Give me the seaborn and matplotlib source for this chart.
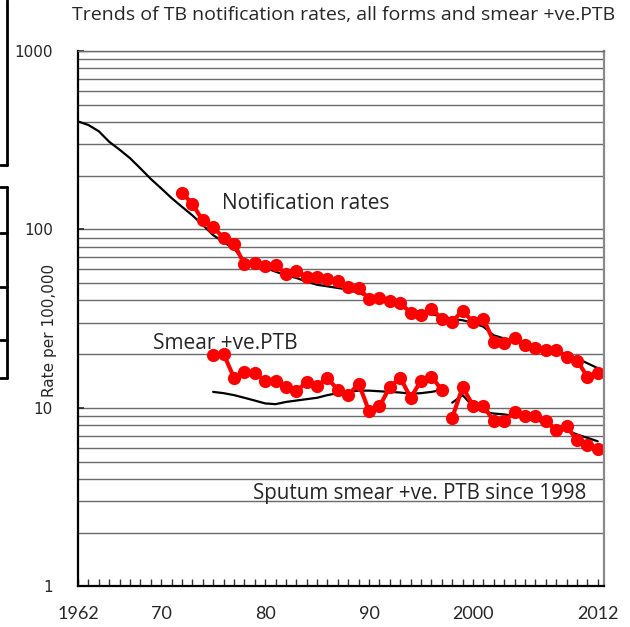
import numpy as np
import pandas as pd
import matplotlib
matplotlib.use("Agg")
import matplotlib.pyplot as plt
import matplotlib.ticker as mticker
from matplotlib.lines import Line2D
import seaborn as sns

sns.set_style("white")
plt.rcParams["font.family"] = ["DejaVu Sans"]

# ===========================
# DATA
# ===========================

# notification rates, all forms (red dots)
notif_years = list(range(1972, 2013))
notif_rates = [161, 139, 112.5, 103, 89.7, 83.3, 64, 64.9, 62.1, 63.4,
               56.5, 58.2, 54, 54, 53, 51.5, 47.3, 47.0, 40.8, 41.3,
               39.5, 38.7, 34.1, 33.2, 35.9, 31.7, 30.5, 35.0, 30.3, 31.5,
               23.5, 23.1, 24.7, 22.6, 21.8, 21.2, 21.0, 19.4, 18.4, 15.0,
               15.7]

# notification trend (black line)
notif_trend_years = list(range(1962, 2013))
notif_trend = [403, 385, 355, 310, 280, 251, 220, 192, 170, 150,
               134, 120, 106, 93, 85, 78, 67, 63.5, 61, 58,
               55.5, 53.5, 51, 49, 48, 47, 46, 44, 42, 40,
               38.5, 37, 35.5, 34.5, 33.5, 32.5, 31.5, 31, 30, 28.5,
               25.5, 24.5, 24, 23, 22.2, 21.5, 21, 20, 19, 17.8,
               16.7]

# smear +ve PTB (red dots), up to 1997
smear_years = list(range(1975, 1998))
smear_rates = [19.9, 20.1, 14.8, 15.9, 15.6, 14.2, 14.2, 13.1, 12.4, 14.0,
               13.3, 14.7, 12.6, 11.8, 13.7, 9.6, 10.2, 13.1, 14.8, 11.4,
               14.2, 15.0, 12.6]
smear_trend = [12.3, 12.1, 11.8, 11.4, 11.0, 10.6, 10.5, 10.8, 11.0, 11.2,
               11.4, 11.8, 12.1, 12.3, 12.5, 12.5, 12.4, 12.3, 12.2, 12.0,
               12.1, 12.3, 12.6]

# sputum smear +ve PTB since 1998
sputum_years = list(range(1998, 2013))
sputum_rates = [8.8, 13.1, 10.3, 10.3, 8.4, 8.4, 9.5, 9.0, 9.0, 8.4,
                7.5, 7.9, 6.6, 6.2, 5.9]
sputum_trend = [10.7, 11.8, 10.2, 9.5, 9.3, 9.2, 9.0, 8.8, 8.5, 8.3,
                7.8, 7.5, 7.1, 6.8, 6.5]

xtick_pos = [1962, 1970, 1980, 1990, 2000, 2012]
xtick_labels = ["1962", "70", "80", "90", "2000", "2012"]
ytick_pos = [1, 10, 100, 1000]
ytick_labels = ["1", "10", "100", "1000"]

# ===========================
# FIGURE
# ===========================

fig = plt.figure(figsize=(6.3, 6.27), dpi=100)
ax = fig.add_axes([78 / 630, 1 - 586.4 / 627, 526 / 630, 535.4 / 627])

ax.set_yscale("log")
ax.set_ylim(1, 1000)
ax.set_xlim(1962, 2012.6)

# gridlines at every log step
ax.yaxis.set_major_locator(mticker.FixedLocator(ytick_pos))
ax.yaxis.set_minor_locator(mticker.LogLocator(base=10, subs=np.arange(2, 10)))
ax.yaxis.set_minor_formatter(mticker.NullFormatter())
ax.grid(True, which="both", axis="y", color="#6a6a6a", linewidth=1.0)
ax.grid(False, axis="x")
ax.set_axisbelow(True)

red_kw = dict(color="#ff0000", marker="o", markersize=9.5, linewidth=3,
              markeredgewidth=0)
black_kw = dict(color="black", linewidth=1.6)

sns.lineplot(x=notif_trend_years, y=notif_trend, ax=ax, **black_kw)
sns.lineplot(x=smear_years, y=smear_trend, ax=ax, **black_kw)
sns.lineplot(x=sputum_years, y=sputum_trend, ax=ax, **black_kw)

sns.lineplot(x=notif_years, y=notif_rates, ax=ax, **red_kw)
sns.lineplot(x=smear_years, y=smear_rates, ax=ax, **red_kw)
sns.lineplot(x=sputum_years, y=sputum_rates, ax=ax, **red_kw)

# ===========================
# AXES STYLE
# ===========================

ax.set_xticks(xtick_pos)
ax.set_xticklabels(xtick_labels, fontfamily="Lato", fontsize=13)
ax.xaxis.set_minor_locator(mticker.MultipleLocator(1))
ax.tick_params(axis="x", which="both", direction="in", length=5,
               width=1, color="#333333", pad=14, bottom=True)
ax.set_yticklabels(ytick_labels, fontsize=11)
ax.tick_params(axis="y", which="major", direction="in", length=4,
               width=1.2, pad=18, left=True)
ax.tick_params(axis="y", which="minor", length=0)

for side in ["left", "bottom"]:
    ax.spines[side].set_color("black")
    ax.spines[side].set_linewidth(1.6)
ax.spines["right"].set_color("#8a8a8a")
ax.spines["right"].set_linewidth(1.6)
ax.spines["top"].set_color("#6a6a6a")
ax.spines["top"].set_linewidth(1.0)

ax.set_xlabel("")
ax.set_ylabel("Rate per 100,000", fontsize=11)
ax.yaxis.set_label_coords(-0.040, 0.479)

# ===========================
# LABELS
# ===========================

ax.text(1975.85, 139, "Notification rates", fontfamily="Open Sans",
        fontsize=15, ha="left", va="center")
ax.text(1969.2, 23.0, "Smear +ve.PTB", fontfamily="Open Sans",
        fontsize=15, ha="left", va="center")
ax.text(1978.8, 3.3, "Sputum smear +ve. PTB since 1998",
        fontfamily="Open Sans", fontsize=14.8, ha="left", va="center")

fig.text(0.545, 1 - 15 / 627,
         "Trends of TB notification rates, all forms and smear +ve.PTB",
         fontfamily="Open Sans", fontsize=14, ha="center", va="center")

# cut-off boxes at the left edge
W, H = 630, 627
def fig_line(x0, y0, x1, y1):
    fig.add_artist(Line2D([x0 / W, x1 / W], [1 - y0 / H, 1 - y1 / H],
                          color="black", linewidth=2))

fig_line(7, 0, 7, 165)
fig_line(0, 165, 7, 165)
fig_line(0, 187, 7, 187)
fig_line(7, 187, 7, 378)
fig_line(0, 378, 7, 378)
for yy in [233, 287, 340]:
    fig_line(0, yy, 7, yy)

plt.savefig("out.png", dpi=100)
